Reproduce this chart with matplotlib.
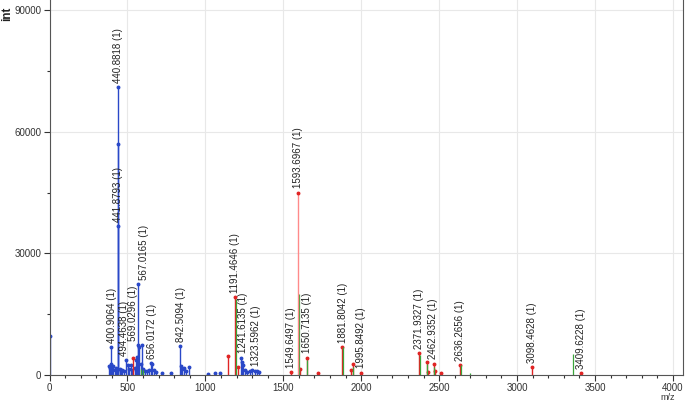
import numpy as np
import matplotlib
matplotlib.use("Agg")
import matplotlib.pyplot as plt
from matplotlib.ticker import MultipleLocator

plt.rcParams['font.family'] = ['Liberation Sans', 'DejaVu Sans']

# blue peaks (m/z, intensity)
blue_mz = [3, 380, 386, 392, 396, 403, 410, 418, 425, 432, 440.5, 440.9, 441.9,
           450, 458, 468, 480, 494, 503, 512, 522, 532, 548, 556, 562, 567, 569,
           576, 584, 592, 600, 612, 626, 640, 653, 660, 668, 685, 720, 780,
           839, 846, 852, 862, 878, 893, 1020, 1060, 1095, 1231, 1236, 1244,
           1255, 1270, 1285, 1300, 1316, 1330, 1345]
blue_int = [9500, 2200, 1800, 6900, 2600, 1600, 2300, 1200, 1800, 1400, 57000, 71000, 36800,
            1500, 1100, 1300, 900, 3600, 2400, 1600, 2500, 1200, 1800, 3800, 4500, 22500, 7400,
            6900, 2800, 7300, 1600, 1100, 900, 1300, 2900, 2600, 1200, 700, 500, 400,
            7200, 2300, 1400, 1700, 900, 1900, 300, 500, 400, 4300, 3300, 2400,
            1300, 800, 1000, 1200, 1000, 1100, 700]

# red peaks
red_mz = [535, 1145, 1188, 1212, 1547, 1610, 1650, 1720, 1880, 1935, 1945, 1997,
          2370, 2420, 2430, 2465, 2475, 2510, 2637, 3096, 3410]
red_int = [4300, 4700, 19200, 2000, 700, 1500, 4300, 600, 6800, 1300, 2600, 600,
           5500, 3300, 800, 2800, 900, 500, 2400, 1900, 400]

# green peaks
green_mz = [590, 603, 1199, 1598, 1655, 1885, 1950, 2375, 2425, 2470, 2641, 2700, 3357]
green_int = [1600, 1300, 18800, 20100, 3800, 7000, 2000, 5000, 2800, 2000, 2500, 400, 5200]

# main peak (pink)
main_mz = [1593.7]
main_int = [45000]

# labelled peaks
label_mz = [400.9064, 440.8818, 441.8793, 494.4638, 567.0165, 569.0296, 656.0172,
            842.5094, 1191.4646, 1241.6135, 1323.5962, 1549.6497, 1593.6967,
            1650.7135, 1881.8042, 1995.8492, 2371.9327, 2462.9352, 2636.2656,
            3098.4628, 3409.6228]
label_int = [6900, 71000, 36800, 3600, 22500, 7400, 2900,
             7200, 19200, 4300, 1200, 700, 45000,
             4300, 6800, 600, 5500, 2800, 2400,
             1900, 400]

fig = plt.figure(figsize=(6.85, 4.05), dpi=100)
ax = fig.add_axes([49.5 / 685, 30 / 405, (683 - 49.5) / 685, 375 / 405])

ax.vlines(blue_mz, 0, blue_int, color='#2a48c8', lw=1.0)
ax.plot(blue_mz, blue_int, 'o', color='#2a48c8', ms=1.8)
ax.vlines(red_mz, 0, red_int, color='#e02424', lw=1.0)
ax.plot(red_mz, red_int, 'o', color='#e02424', ms=1.8)
ax.vlines(green_mz, 0, green_int, color='#3aa53a', lw=0.9)
ax.vlines(main_mz, 0, main_int, color='#ff8a8a', lw=1.0)
ax.plot(main_mz, main_int, 'o', color='#e02424', ms=1.8)

# small horizontal shifts (points) where labels would collide
shift = {494.4638: -2, 567.0165: 4.5, 569.0296: -3.8}
for mz, h in zip(label_mz, label_int):
    ax.annotate(f"{mz:.4f} (1)", (mz, h), xytext=(shift.get(mz, 0), 3),
                textcoords='offset points', rotation=90, ha='center', va='bottom',
                fontsize=7, color='#222222')

ax.set_xlim(0, 4065)
ax.set_ylim(0, 92500)
ax.xaxis.set_major_locator(MultipleLocator(500))
ax.xaxis.set_minor_locator(MultipleLocator(100))
ax.yaxis.set_major_locator(MultipleLocator(30000))
ax.yaxis.set_minor_locator(MultipleLocator(15000))
ax.grid(True, which='major', color='#e8e8e8', lw=0.8)
ax.set_axisbelow(True)
ax.tick_params(which='major', length=4, width=0.8, labelsize=7, colors='#333333', pad=2)
ax.tick_params(which='minor', length=2.5, width=0.8, colors='#333333')
for s in ['left', 'bottom', 'right']:
    ax.spines[s].set_color('#555555')
    ax.spines[s].set_linewidth(0.8)
ax.spines['top'].set_visible(False)

fig.text(668 / 685, 1 - 398 / 405, 'm/z', ha='center', va='center', fontsize=6.5, color='#333333')
fig.text(7 / 685, 1 - 14 / 405, 'int', rotation=90, ha='center', va='center',
         fontsize=8.5, fontweight='bold', color='#222222')

fig.savefig('out.png', dpi=100)
